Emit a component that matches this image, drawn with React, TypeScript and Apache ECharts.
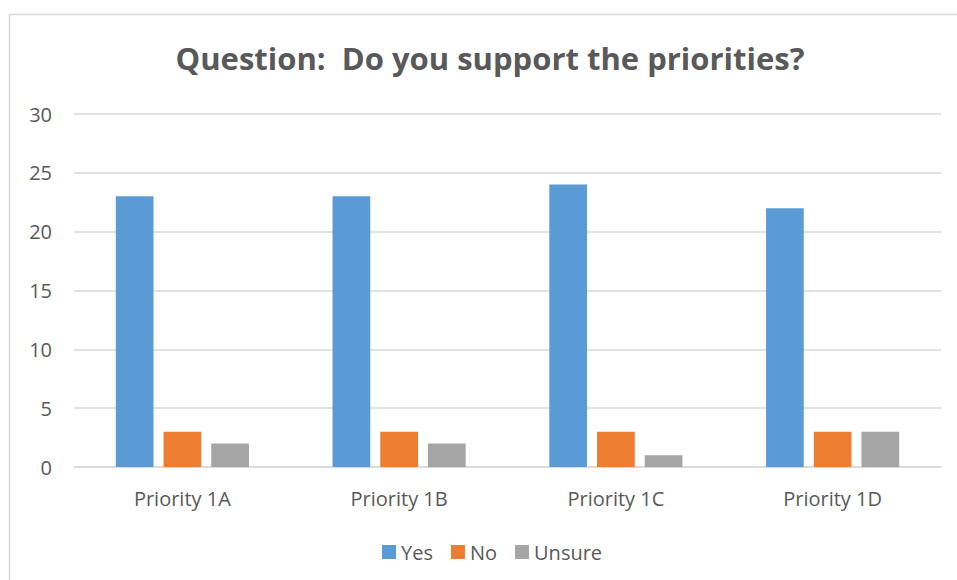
import React, { useEffect, useRef } from "react";
import * as echarts from "echarts";

const categories = ["Priority 1A", "Priority 1B", "Priority 1C", "Priority 1D"];
const yesValues = [23, 23, 24, 22];
const noValues = [3, 3, 3, 3];
const unsureValues = [2, 2, 1, 3];
const seriesNames = ["Yes", "No", "Unsure"];
const titleText = "Question:  Do you support the priorities?";

const FONT = "Open Sans";

export default function App() {
  const ref = useRef<HTMLDivElement>(null);
  useEffect(() => {
    document.body.style.margin = "0";
    const chart = echarts.init(ref.current!, null, { renderer: "svg" });
    const mkSeries = (name: string, data: number[], color: string) => ({
      name,
      type: "bar",
      data,
      barWidth: "17.4%",
      barGap: "26.5%",
      itemStyle: { color },
    });
    chart.setOption({
      animation: false,
      backgroundColor: "#ffffff",
      title: {
        text: titleText,
        left: 485,
        textAlign: "center",
        top: 37,
        textStyle: { fontFamily: FONT, fontSize: 31, fontWeight: "bold", color: "#595959" },
      },
      graphic: [
        {
          type: "rect",
          shape: { x: 9.5, y: 14.5, width: 980, height: 600 },
          style: { fill: "none", stroke: "#D9D9D9", lineWidth: 1.5 },
          silent: true,
        },
      ],
      legend: {
        data: seriesNames,
        left: 377,
        top: 537,
        icon: "rect",
        itemWidth: 14,
        itemHeight: 14,
        itemGap: 18,
        textStyle: { fontFamily: FONT, fontSize: 20, color: "#595959" },
      },
      grid: { left: 74, right: 16, top: 114, bottom: 113, containLabel: false },
      xAxis: {
        type: "category",
        data: categories,
        axisLine: { lineStyle: { color: "#D9D9D9", width: 1.5 } },
        axisTick: { show: false },
        axisLabel: { fontFamily: FONT, fontSize: 20, color: "#595959", margin: 21 },
      },
      yAxis: {
        type: "value",
        min: 0,
        max: 30,
        interval: 5,
        axisLine: { show: false },
        axisTick: { show: false },
        splitLine: { lineStyle: { color: "#D9D9D9", width: 1.5 } },
        axisLabel: { fontFamily: FONT, fontSize: 20, color: "#595959", margin: 22 },
      },
      series: [
        mkSeries(seriesNames[0], yesValues, "#5B9BD5"),
        mkSeries(seriesNames[1], noValues, "#ED7D31"),
        mkSeries(seriesNames[2], unsureValues, "#A5A5A5"),
      ],
    });
    return () => chart.dispose();
  }, []);
  return <div ref={ref} style={{ width: 957, height: 580 }} />;
}
